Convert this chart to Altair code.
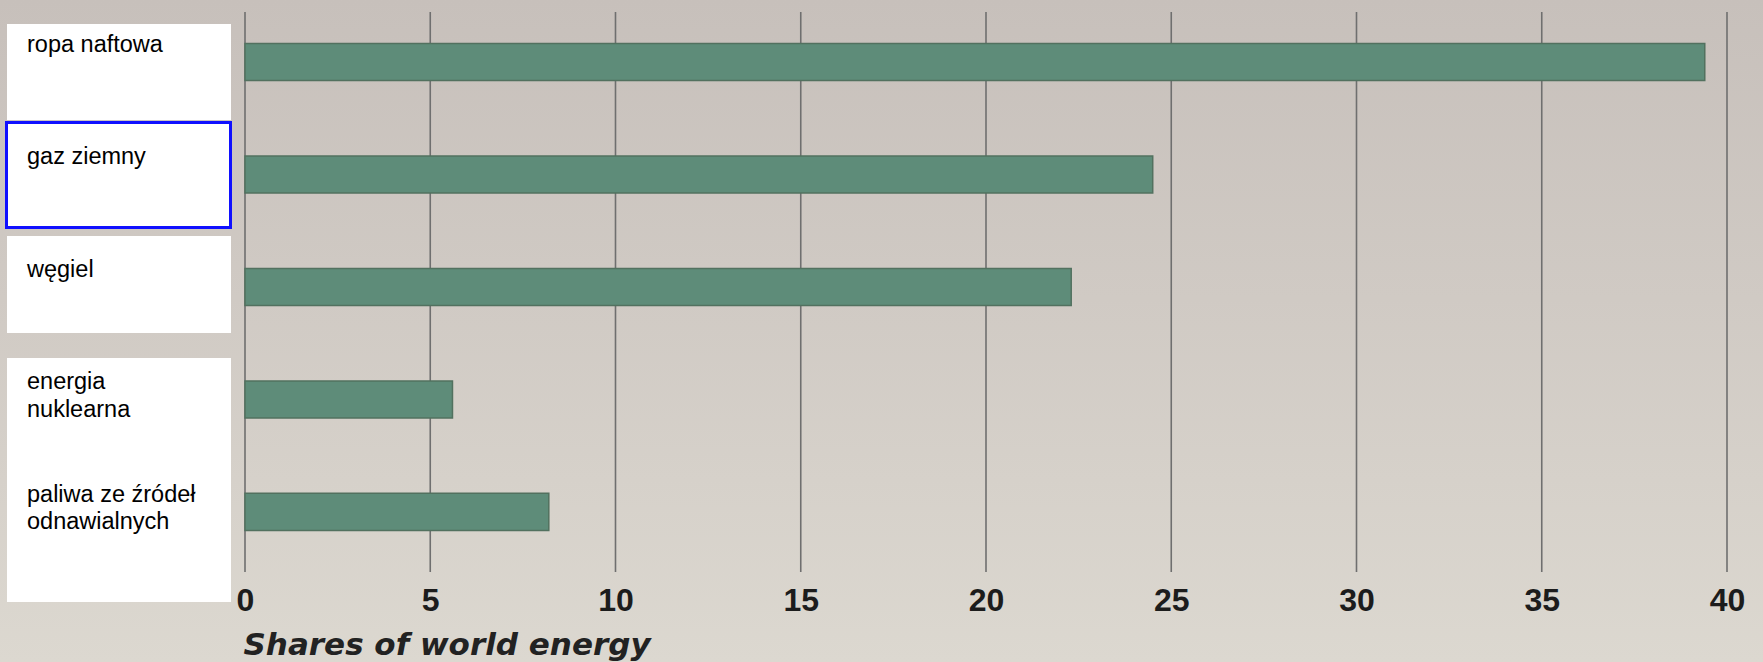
import altair as alt
import pandas as pd

# ---- data ----
categories = ["ropa naftowa", "gaz ziemny", "węgiel", "energia nuklearna",
              "paliwa ze źródeł odnawialnych"]
label_text = ["ropa naftowa", "gaz ziemny", "węgiel", "energia\nnuklearna",
              "paliwa ze źródeł\nodnawialnych"]
shares = [39.4, 24.5, 22.3, 5.6, 8.2]
tick_values = [0, 5, 10, 15, 20, 25, 30, 35, 40]
x_title = "Shares of world energy"

df = pd.DataFrame({"category": categories, "label": label_text, "share": shares})
grid_df = pd.DataFrame({"tick": tick_values})

W, H = 1482, 560
PAD = {"left": 245, "top": 12, "right": 36, "bottom": 90}

x_scale = alt.Scale(domain=[0, 40], nice=False, zero=True)
y_scale = alt.Scale(paddingInner=0.671, paddingOuter=0.3245, align=0.43)

x_axis = alt.Axis(values=tick_values, grid=False, domain=False,
                  ticks=False, tickSize=0, labelPadding=13,
                  labelFont="Liberation Sans", labelFontWeight="bold",
                  labelFontSize=32, labelColor="#1c1c1c",
                  labelFlush=False, labelOverlap=False,
                  title=x_title, titleFont="DejaVu Sans",
                  titleFontStyle="italic", titleFontWeight="bold",
                  titleFontSize=31, titleColor="#222222",
                  titleX=-2, titleY=82, titleAlign="left",
                  titleBaseline="alphabetic", titleAnchor="start",
                  zindex=1)

# background (photo-like beige/grey wash)
bg = alt.Chart(alt.Data(values=[{}])).mark_rect(
    color=alt.Gradient(
        gradient="linear",
        stops=[alt.GradientStop(color="#c7c0bb", offset=0),
               alt.GradientStop(color="#d0cac4", offset=0.45),
               alt.GradientStop(color="#dcd8d0", offset=1)],
        x1=0, x2=0, y1=0, y2=1)
).encode(
    x=alt.value(-PAD["left"]), x2=alt.value(W + PAD["right"]),
    y=alt.value(-PAD["top"]), y2=alt.value(H + PAD["bottom"]),
)

# vertical grid lines
rules = alt.Chart(grid_df).mark_rule(color="#6f6f6f", strokeWidth=1.6).encode(
    x=alt.X("tick:Q", scale=x_scale, axis=x_axis),
    y=alt.value(0), y2=alt.value(H),
)

# white label boxes (decoration, as in the reference)
box_style = dict(fill="white")
box1 = alt.Chart(alt.Data(values=[{}])).mark_rect(**box_style).encode(
    x=alt.value(-238), x2=alt.value(-14), y=alt.value(12), y2=alt.value(108))
box2 = alt.Chart(alt.Data(values=[{}])).mark_rect(
    fill="white", stroke="#1010ff", strokeWidth=3).encode(
    x=alt.value(-238.5), x2=alt.value(-14.5), y=alt.value(110.5), y2=alt.value(215.5))
box3 = alt.Chart(alt.Data(values=[{}])).mark_rect(**box_style).encode(
    x=alt.value(-238), x2=alt.value(-14), y=alt.value(224), y2=alt.value(321))
box4 = alt.Chart(alt.Data(values=[{}])).mark_rect(**box_style).encode(
    x=alt.value(-238), x2=alt.value(-14), y=alt.value(346), y2=alt.value(590))

bars = alt.Chart(df).mark_bar(
    color="#5e8c79", stroke="#52715f", strokeWidth=1.5
).encode(
    x=alt.X("share:Q", scale=x_scale, axis=x_axis),
    y=alt.Y("category:N", sort=categories, scale=y_scale, axis=None),
)

labels = alt.Chart(df).mark_text(
    align="left", baseline="alphabetic", dy=-10, lineBreak="\n",
    lineHeight=27.5, font="Liberation Sans", fontSize=23.5, color="#000000"
).encode(
    y=alt.Y("category:N", sort=categories, scale=y_scale, axis=None),
    x=alt.value(-218),
    text="label:N",
)

chart = alt.layer(bg, rules, box1, box2, box3, box4, bars, labels).properties(
    width=W, height=H,
    autosize=alt.AutoSizeParams(type="none"),
    padding=PAD,
    background="#d3cdc6",
).configure_view(stroke=None)

chart.save("out.html", embed_options={"renderer": "svg", "actions": False})
